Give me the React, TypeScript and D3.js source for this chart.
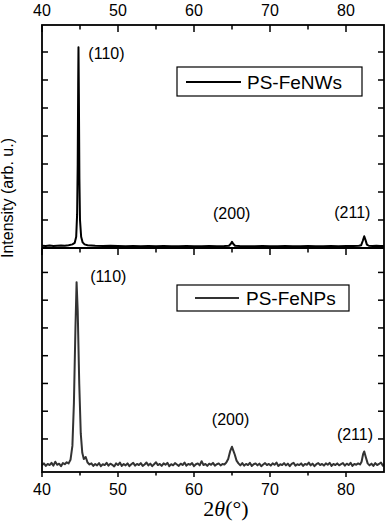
import * as d3 from 'd3';

// PS-FeNWs (top panel), [2theta, intensity]
const nwData: [number, number][] = [
  [40.0, 0.08], [40.5, 0.07], [41.0, 0.09], [41.5, 0.07], [42.0, 0.08], [42.5, 0.09],
  [43.0, 0.08], [43.5, 0.1], [44.0, 0.13], [44.3, 0.18], [44.5, 0.4], [44.62, 1.2],
  [44.7, 3.0], [44.76, 5.8], [44.8, 7.17], [44.85, 5.5], [44.92, 2.5], [45.0, 1.0],
  [45.15, 0.4], [45.35, 0.2], [45.6, 0.13], [46.0, 0.1], [46.5, 0.09], [47.0, 0.08],
  [48.0, 0.07], [49.0, 0.08], [50.0, 0.07], [51.0, 0.06], [52.0, 0.07], [53.0, 0.06],
  [54.0, 0.07], [55.0, 0.06], [56.0, 0.07], [57.0, 0.06], [58.0, 0.06], [59.0, 0.07],
  [60.0, 0.06], [61.0, 0.06], [62.0, 0.07], [63.0, 0.06], [64.0, 0.07], [64.6, 0.08],
  [64.85, 0.15], [65.0, 0.22], [65.15, 0.15], [65.4, 0.08], [66.0, 0.07], [67.0, 0.06],
  [68.0, 0.06], [69.0, 0.07], [70.0, 0.06], [71.0, 0.06], [72.0, 0.07], [73.0, 0.06],
  [74.0, 0.06], [75.0, 0.07], [76.0, 0.06], [77.0, 0.06], [78.0, 0.07], [79.0, 0.06],
  [80.0, 0.07], [81.0, 0.07], [81.7, 0.08], [82.0, 0.1], [82.2, 0.25], [82.4, 0.42],
  [82.55, 0.3], [82.75, 0.12], [83.0, 0.08], [83.5, 0.07], [84.0, 0.08], [84.5, 0.07],
  [85.0, 0.07],
];

// PS-FeNPs (bottom panel), [2theta, intensity]
const npData: [number, number][] = [
  [40.0, 0.05], [40.25, 0.12], [40.5, 0.03], [40.75, 0.1], [41.0, 0.06], [41.25, 0.14],
  [41.5, 0.04], [41.75, 0.18], [42.0, 0.07], [42.25, 0.11], [42.5, 0.02], [42.75, 0.13],
  [43.0, 0.09], [43.25, 0.16], [43.5, 0.12], [43.75, 0.25], [44.0, 0.75], [44.2, 2.3],
  [44.4, 5.0], [44.55, 6.65], [44.7, 5.6], [44.9, 3.0], [45.1, 1.2], [45.3, 0.5],
  [45.5, 0.28], [45.75, 0.35], [46.0, 0.15], [46.25, 0.08], [46.5, 0.12], [46.75, 0.03],
  [47.0, 0.1], [47.25, 0.05], [47.5, 0.13], [47.75, 0.02], [48.0, 0.09], [48.25, 0.06],
  [48.5, 0.14], [48.75, 0.04], [49.0, 0.11], [49.25, 0.07], [49.5, 0.01], [49.75, 0.12],
  [50.0, 0.06], [50.25, 0.15], [50.5, 0.03], [50.75, 0.1], [51.0, 0.05], [51.25, 0.12],
  [51.5, 0.02], [51.75, 0.09], [52.0, 0.14], [52.25, 0.04], [52.5, 0.1], [52.75, 0.06],
  [53.0, 0.13], [53.25, 0.03], [53.5, 0.08], [53.75, 0.15], [54.0, 0.05], [54.25, 0.11],
  [54.5, 0.02], [54.75, 0.09], [55.0, 0.16], [55.25, 0.06], [55.5, 0.1], [55.75, 0.03],
  [56.0, 0.12], [56.25, 0.07], [56.5, 0.14], [56.75, 0.02], [57.0, 0.09], [57.25, 0.05],
  [57.5, 0.13], [57.75, 0.08], [58.0, 0.03], [58.25, 0.11], [58.5, 0.06], [58.75, 0.15],
  [59.0, 0.04], [59.25, 0.1], [59.5, 0.07], [59.75, 0.13], [60.0, 0.02], [60.25, 0.09],
  [60.5, 0.12], [60.75, 0.05], [61.0, 0.2], [61.25, 0.06], [61.5, 0.1], [61.75, 0.03],
  [62.0, 0.11], [62.25, 0.07], [62.5, 0.14], [62.75, 0.04], [63.0, 0.09], [63.25, 0.12],
  [63.5, 0.05], [63.75, 0.1], [64.0, 0.08], [64.25, 0.15], [64.5, 0.28], [64.75, 0.55],
  [65.0, 0.72], [65.15, 0.6], [65.35, 0.45], [65.6, 0.22], [65.85, 0.12], [66.1, 0.05],
  [66.35, 0.13], [66.6, 0.04], [66.85, 0.1], [67.1, 0.06], [67.35, 0.14], [67.6, 0.03],
  [67.85, 0.09], [68.1, 0.12], [68.35, 0.05], [68.6, 0.11], [68.85, 0.02], [69.1, 0.08],
  [69.35, 0.13], [69.6, 0.06], [69.85, 0.1], [70.1, 0.04], [70.35, 0.12], [70.6, 0.07],
  [70.85, 0.15], [71.1, 0.03], [71.35, 0.09], [71.6, 0.06], [71.85, 0.13], [72.1, 0.05],
  [72.35, 0.11], [72.6, 0.02], [72.85, 0.1], [73.1, 0.14], [73.35, 0.04], [73.6, 0.09],
  [73.85, 0.06], [74.1, 0.12], [74.35, 0.03], [74.6, 0.1], [74.85, 0.07], [75.1, 0.15],
  [75.35, 0.05], [75.6, 0.11], [75.85, 0.02], [76.1, 0.09], [76.35, 0.13], [76.6, 0.06],
  [76.85, 0.1], [77.1, 0.04], [77.35, 0.12], [77.6, 0.07], [77.85, 0.14], [78.1, 0.03],
  [78.35, 0.1], [78.6, 0.06], [78.85, 0.12], [79.1, 0.05], [79.35, 0.09], [79.6, 0.13],
  [79.85, 0.04], [80.1, 0.11], [80.35, 0.06], [80.6, 0.14], [80.85, 0.03], [81.1, 0.1],
  [81.35, 0.07], [81.6, 0.12], [81.85, 0.08], [82.05, 0.18], [82.25, 0.45], [82.4, 0.55],
  [82.6, 0.35], [82.85, 0.12], [83.1, 0.05], [83.35, 0.11], [83.6, 0.03], [83.85, 0.13],
  [84.1, 0.06], [84.35, 0.1], [84.6, 0.15], [84.85, 0.04], [85.0, 0.09],
];

const seriesNames = ['PS-FeNWs', 'PS-FeNPs'];
const xMajor = [40, 50, 60, 70, 80];
const xMinor = [45, 55, 65, 75];
const yTicks = [1, 2, 3, 4, 5, 6, 7];
const peakNames = ['(110)', '(200)', '(211)'];
// label anchors in data units: [2theta, intensity]
const nwPeakAt: [number, number][] = [[46.1, 6.75], [62.5, 1.02], [78.45, 1.07]];
const npPeakAt: [number, number][] = [[46.35, 6.66], [62.35, 1.49], [78.8, 0.97]];

const W = 387;
const H = 525;
const L = 42, R = 384, T = 25, MID = 248, B = 472;
const sans = '"Liberation Sans", Arial, sans-serif';

export default function App() {
  const x = d3.scaleLinear().domain([40, 85]).range([L, R]);
  const yTop = d3.scaleLinear().domain([0, (MID - T) / 28]).range([MID, T]);
  const yBot = d3.scaleLinear().domain([-0.19, 7.88]).range([B, MID]);

  const lineTop = d3.line<[number, number]>().x(d => x(d[0])).y(d => yTop(d[1]));
  const lineBot = d3.line<[number, number]>().x(d => x(d[0])).y(d => yBot(d[1]));

  const yTickMarks = (y: d3.ScaleLinear<number, number>, key: string) =>
    yTicks.map(t => (
      <g key={key + t}>
        <line x1={L} x2={L + 6} y1={y(t)} y2={y(t)} stroke="#000" strokeWidth={1.5} />
        <line x1={R - 6} x2={R} y1={y(t)} y2={y(t)} stroke="#000" strokeWidth={1.5} />
      </g>
    ));

  return (
    <svg width={W} height={H} style={{ position: 'absolute', left: 0, top: 0, background: '#fff' }}>
      <defs>
        <clipPath id="clipTop"><rect x={L} y={T} width={R - L} height={MID - T} /></clipPath>
        <clipPath id="clipBot"><rect x={L} y={MID} width={R - L} height={B - MID} /></clipPath>
      </defs>

      <path d={lineTop(nwData) ?? ''} fill="none" stroke="#000" strokeWidth={2} strokeLinejoin="round" clipPath="url(#clipTop)" />
      <path d={lineBot(npData) ?? ''} fill="none" stroke="#333" strokeWidth={2} strokeLinejoin="round" clipPath="url(#clipBot)" />

      {/* frames */}
      <rect x={L} y={T} width={R - L} height={B - T} fill="none" stroke="#000" strokeWidth={1.8} />
      <line x1={L} x2={R} y1={MID} y2={MID} stroke="#000" strokeWidth={2} />

      {/* x ticks: top axis, divider, bottom axis */}
      {xMajor.map(v => (
        <g key={'xM' + v}>
          <line x1={x(v)} x2={x(v)} y1={T} y2={T + 7} stroke="#000" strokeWidth={1.5} />
          <line x1={x(v)} x2={x(v)} y1={MID} y2={MID + 7} stroke="#000" strokeWidth={1.5} />
          <line x1={x(v)} x2={x(v)} y1={B} y2={B + 5} stroke="#000" strokeWidth={1.5} />
        </g>
      ))}
      {xMinor.map(v => (
        <g key={'xm' + v}>
          <line x1={x(v)} x2={x(v)} y1={T} y2={T + 4.5} stroke="#000" strokeWidth={1.5} />
          <line x1={x(v)} x2={x(v)} y1={MID} y2={MID + 4.5} stroke="#000" strokeWidth={1.5} />
          <line x1={x(v)} x2={x(v)} y1={B} y2={B + 3.5} stroke="#000" strokeWidth={1.5} />
        </g>
      ))}
      {yTickMarks(yTop, 't')}
      {yTickMarks(yBot, 'b')}

      {/* tick labels */}
      {xMajor.map(v => (
        <g key={'xl' + v} fontFamily={sans} fontSize={16} textAnchor="middle" fill="#000">
          <text x={x(v)} y={16}>{v}</text>
          <text x={x(v)} y={495}>{v}</text>
        </g>
      ))}

      {/* peak labels */}
      {peakNames.map((p, i) => (
        <g key={'pk' + p} fontFamily={sans} fontSize={16} fill="#000">
          <text x={x(nwPeakAt[i][0])} y={yTop(nwPeakAt[i][1])}>{p}</text>
          <text x={x(npPeakAt[i][0])} y={yBot(npPeakAt[i][1])}>{p}</text>
        </g>
      ))}

      {/* legends */}
      <rect x={177} y={67} width={185} height={29} fill="#fff" stroke="#000" strokeWidth={1.2} />
      <line x1={186} x2={241} y1={82} y2={82} stroke="#000" strokeWidth={2} />
      <text x={247} y={89} fontFamily={sans} fontSize={19}>{seriesNames[0]}</text>
      <rect x={177} y={285} width={172} height={26} fill="#fff" stroke="#000" strokeWidth={1.2} />
      <line x1={195} x2={239} y1={298} y2={298} stroke="#333" strokeWidth={2} />
      <text x={246} y={305} fontFamily={sans} fontSize={19}>{seriesNames[1]}</text>

      {/* axis titles */}
      <text transform="translate(13,198) rotate(-90)" textAnchor="middle" fontFamily={sans} fontSize={16}>
        Intensity (arb. u.)
      </text>
      <text x={226} y={516} textAnchor="middle" fontFamily='"Liberation Serif", "Times New Roman", serif' fontSize={22}>
        2<tspan fontStyle="italic">θ</tspan>(°)
      </text>
    </svg>
  );
}
